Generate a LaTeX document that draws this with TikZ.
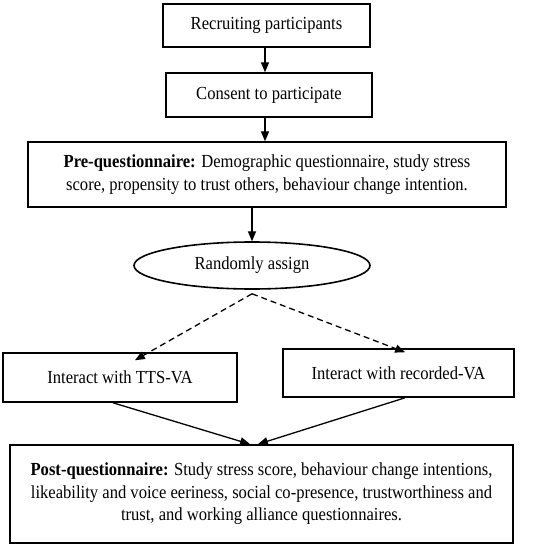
\documentclass[tikz,border=0pt]{standalone}
\usepackage{fontspec}
\setmainfont{Liberation Serif}[FakeStretch=0.9]
\usetikzlibrary{positioning, arrows, shapes.geometric}
\tikzset{
    step_box/.style={rectangle, text centered, align=center, draw=black, line width=1.6pt, inner sep=0pt},
    rand_ellipse/.style={ellipse, text centered, align=center, draw=black, line width=1.6pt, inner sep=0pt},
    arrow/.style={line width=1.3pt, ->, >=triangle 45},
    dashed_arrow/.style={line width=1.3pt, ->, >=triangle 45, dash pattern=on 6pt off 4pt},
}

\begin{document}
\begin{tikzpicture}[x=1bp, y=-1bp, font=\fontsize{18.5}{22.5}\selectfont]
      \useasboundingbox (0,0) rectangle (547,550);

      \node (recruit) at (266.5,25.5) [step_box, minimum width=207bp, minimum height=43bp]{Recruiting participants};
      \node (consent) at (269,95) [step_box, minimum width=206bp, minimum height=44bp]{Consent to participate};
      \node (pre_q) at (267,174.5) [step_box, minimum width=478bp, minimum height=65bp]{\textbf{Pre-questionnaire:} Demographic questionnaire, study stress\\score, propensity to trust others, behaviour change intention.};

      \node (assign) at (252,265.5) [rand_ellipse, minimum width=236bp, minimum height=47bp]{Randomly assign};

      \node (tts) at (120,377.5) [step_box, minimum width=234bp, minimum height=49bp]{Interact with TTS-VA};
      \node (recorded) at (398.5,373) [step_box, minimum width=231bp, minimum height=48bp]{Interact with recorded-VA};

      \node (post_q) at (261.5,494) [step_box, minimum width=503bp, minimum height=98bp]{\textbf{Post-questionnaire:} Study stress score, behaviour change intentions,\\likeability and voice eeriness, social co-presence, trustworthiness and\\trust, and working alliance questionnaires.};

      \draw [arrow] (recruit.south -| 265,0) -- (consent.north -| 265,0);
      \draw [arrow] (consent.south -| 265,0) -- (pre_q.north -| 265,0);
      \draw [arrow] (pre_q.south -| assign) -- (assign.north);

      \draw [dashed_arrow] ([yshift=-4bp]assign.south) -- ([yshift=-8bp]tts.north -| 135,0);
      \draw [dashed_arrow] ([yshift=-4bp]assign.south) -- ([yshift=-4bp]recorded.north -| 405,0);

      \draw [arrow] (tts.south -| 113,0) -- (post_q.north -| 250,0);
      \draw [arrow] (recorded.south -| 405,0) -- (post_q.north -| 258,0);
\end{tikzpicture}
\end{document}
